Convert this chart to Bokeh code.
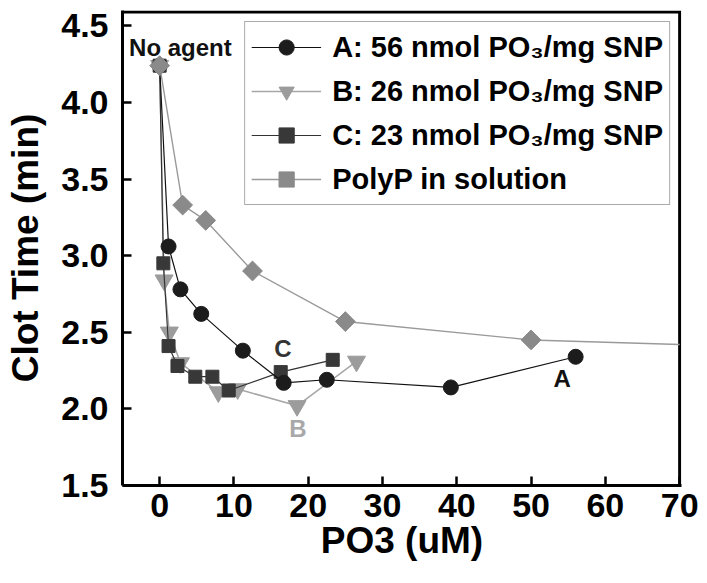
import math
from bokeh.plotting import figure
from bokeh.models import (ColumnDataSource, FixedTicker, PrintfTickFormatter,
                          Legend, LegendItem)
from bokeh.core.properties import value
from bokeh.embed import file_html
from bokeh.resources import INLINE

# ---- data ----
a_x = [0, 1.2, 2.8, 5.6, 11.2, 16.7, 22.5, 39.2, 56.0]
a_y = [4.24, 3.06, 2.78, 2.62, 2.38, 2.17, 2.19, 2.14, 2.34]

b_x = [0, 0.6, 1.3, 2.8, 7.9, 10.5, 18.5, 26.5]
b_y = [4.24, 2.84, 2.50, 2.30, 2.11, 2.13, 2.02, 2.31]

c_x = [0, 0.5, 1.2, 2.4, 4.8, 7.1, 9.3, 16.3, 23.3]
c_y = [4.24, 2.95, 2.41, 2.28, 2.21, 2.21, 2.12, 2.24, 2.32]

# PolyP in solution: the extra line entry is where the line meets the right frame (no marker)
d_x = [0, 3.1, 6.2, 12.5, 25.0, 50.0]
d_y = [4.24, 3.33, 3.23, 2.90, 2.57, 2.45]
d_line_x = d_x + [70.0]
d_line_y = d_y + [2.42]

series_names = ["A: 56 nmol PO\u2083/mg SNP", "B: 26 nmol PO\u2083/mg SNP",
                "C: 23 nmol PO\u2083/mg SNP", "PolyP in solution"]

x_ticks = [0, 10, 20, 30, 40, 50, 60, 70]
y_ticks = [1.5, 2.0, 2.5, 3.0, 3.5, 4.0, 4.5]
# box (frame) limits of the original chart, and view ranges slightly wider
BOX_X = (-5, 70)
BOX_Y = (1.5, 4.59)
X_RANGE = (-5, 70.25)
Y_RANGE = (1.5, 4.60)

ann_x = [2.8, 16.6, 18.6, 54.2]
ann_y = [4.36, 2.395, 1.87, 2.20]
ann_text = ["No agent", "C", "B", "A"]
ann_color = ["#111111", "#333333", "#a8a8a8", "#111111"]

FONT = "Liberation Sans"

p = figure(width=699, height=575, x_range=X_RANGE, y_range=Y_RANGE,
           output_backend="svg", toolbar_location=None,
           min_border_left=122, min_border_right=18, min_border_top=10,
           min_border_bottom=90, background_fill_color="white",
           border_fill_color="white")

p.xgrid.visible = False
p.ygrid.visible = False
p.outline_line_color = None

for ax in (p.xaxis[0], p.yaxis[0]):
    ax.axis_line_width = 3
    ax.axis_line_color = "black"
    ax.major_tick_in = 9
    ax.major_tick_out = 0
    ax.major_tick_line_width = 2.5
    ax.minor_tick_line_color = None
    ax.major_label_text_font = FONT
    ax.major_label_text_font_style = "bold"
    ax.major_label_text_font_size = "34px"
    ax.major_label_text_color = "black"
    ax.axis_label_text_font = FONT
    ax.axis_label_text_font_style = "bold"
    ax.axis_label_text_font_size = "37px"
    ax.axis_label_text_color = "black"

p.xaxis.ticker = FixedTicker(ticks=x_ticks)
p.yaxis.ticker = FixedTicker(ticks=y_ticks)
p.yaxis.formatter = PrintfTickFormatter(format="%.1f")
p.xaxis.major_label_standoff = 8
p.yaxis.major_label_standoff = 14
p.xaxis.axis_label = "PO3 (uM)"
p.yaxis.axis_label = "Clot Time (min)"
p.xaxis.axis_label_standoff = 0
p.yaxis.axis_label_standoff = 12

# frame border along the top and right edges of the box
p.line([BOX_X[0], BOX_X[1], BOX_X[1]], [BOX_Y[1], BOX_Y[1], BOX_Y[0]],
       line_color="black", line_width=3, line_join="miter")

# series B (light grey, inverted triangles)
lb = p.line(b_x, b_y, line_color="#a6a6a6", line_width=1.5)
sb = p.scatter(b_x, b_y, marker="inverted_triangle", size=18,
               fill_color="#9c9c9c", line_color="#9c9c9c")
# series C (dark squares)
lc = p.line(c_x, c_y, line_color="#333333", line_width=1.2)
sc = p.scatter(c_x, c_y, marker="square", size=13,
               fill_color="#383838", line_color="#383838")
# series A (black circles)
la = p.line(a_x, a_y, line_color="#111111", line_width=1.2)
sa = p.scatter(a_x, a_y, marker="circle", size=15,
               fill_color="#1c1c1c", line_color="#1c1c1c")
# PolyP in solution (grey diamonds)
ld = p.line(d_line_x, d_line_y, line_color="#9a9a9a", line_width=1.4)
sd = p.scatter(d_x, d_y, marker="square", size=14, angle=math.pi / 4,
               fill_color="#8a8a8a", line_color="#8a8a8a")

ann_src = ColumnDataSource(dict(x=ann_x, y=ann_y, text=ann_text, color=ann_color))
p.text(x="x", y="y", text="text", source=ann_src, text_color="color",
       text_font=value(FONT), text_font_style="bold", text_font_size="24px",
       text_align="center", text_baseline="middle")

legend = Legend(items=[
    LegendItem(label=series_names[0], renderers=[la, sa]),
    LegendItem(label=series_names[1], renderers=[lb, sb]),
    LegendItem(label=series_names[2], renderers=[lc, sc]),
    LegendItem(label=series_names[3], renderers=[ld, sd]),
], location="top_right")
legend.margin = 11
legend.padding = 6
legend.spacing = 6
legend.label_height = 38
legend.glyph_height = 38
legend.glyph_width = 70
legend.label_standoff = 11
legend.label_text_font = FONT
legend.label_text_font_style = "bold"
legend.label_text_font_size = "29px"
legend.label_text_color = "black"
legend.border_line_color = "#555555"
legend.border_line_width = 1.5
legend.background_fill_color = "white"
legend.background_fill_alpha = 1.0
p.add_layout(legend)

open("out.html", "w").write(file_html(p, INLINE))
